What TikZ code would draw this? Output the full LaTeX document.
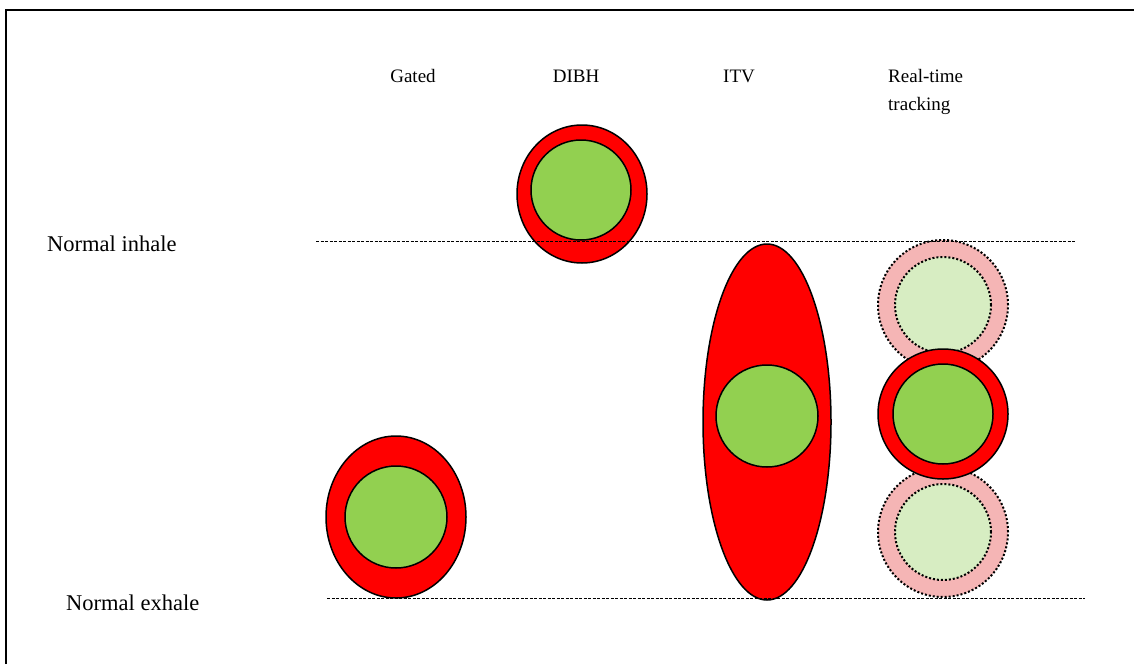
\documentclass[tikz,border=0pt]{standalone}
\usepackage{fontspec}
\setmainfont{Liberation Serif}
\usetikzlibrary{shapes.geometric}
\definecolor{tumour}{HTML}{92D050}
\definecolor{margin}{HTML}{FF0000}
\definecolor{ghostgreen}{HTML}{D7EDC2}
\definecolor{ghostred}{HTML}{F5B5B5}
\begin{document}
\begin{tikzpicture}[x=1pt,y=-1pt,
  lbl/.style={font=\fontsize{19}{28}\selectfont, inner sep=0pt},
  sidelbl/.style={font=\fontsize{22.5}{28}\selectfont, inner sep=0pt},
  ptv/.style={ellipse, draw=black, line width=1.5pt, fill=margin, inner sep=0pt},
  gtv/.style={circle, draw=black, line width=1.5pt, fill=tumour, inner sep=0pt},
  ghostptv/.style={circle, draw=black, line width=2pt, dash pattern=on 2pt off 2pt, fill=ghostred, inner sep=0pt, minimum size=130pt},
  ghostgtv/.style={circle, draw=black, line width=2pt, dash pattern=on 2pt off 2pt, fill=ghostgreen, inner sep=0pt, minimum size=96pt},
  level/.style={line width=1pt, dash pattern=on 3pt off 1.5pt}]
\useasboundingbox (0,0) rectangle (1134,664);
% frame
\draw[line width=2pt] (6,664) -- (6,10) -- (1134,10);

% column headings
\node[lbl, anchor=base] (hgated) at (413,82) {Gated};
\node[lbl, anchor=base] (hdibh) at (576,82) {DIBH};
\node[lbl, anchor=base] (hitv) at (739,82) {ITV};
\node[lbl, anchor=base west] (hrt1) at (888,82) {Real-time};
\node[lbl, anchor=base west] (hrt2) at (888,110) {tracking};

% breathing levels
\node[sidelbl, anchor=base west] (inhale) at (47,251) {Normal inhale};
\node[sidelbl, anchor=base west] (exhale) at (66,610) {Normal exhale};

% gated
\node[ptv, minimum width=140pt, minimum height=162pt] (gatedptv) at (396,517) {};
\node[gtv, minimum size=102pt] (gatedgtv) at (396,517) {};

% DIBH
\node[ptv, minimum width=130pt, minimum height=138pt] (dibhptv) at (582,194) {};
\node[gtv, minimum size=100pt] (dibhgtv) at (581,190) {};

% ITV
\node[ptv, minimum width=128pt, minimum height=356pt] (itvptv) at (767,422) {};
\node[gtv, minimum size=102pt] (itvgtv) at (767,416) {};

% real-time tracking
\node[ghostptv] (rtupptv) at (943,305) {};
\node[ghostgtv] (rtupgtv) at (943,305) {};
\node[ghostptv] (rtdnptv) at (943,532) {};
\node[ghostgtv] (rtdngtv) at (943,532) {};
\node[ptv, minimum width=130pt, minimum height=130pt] (rtptv) at (943,414) {};
\node[gtv, minimum size=100pt] (rtgtv) at (943,414) {};

% level lines
\coordinate (inA) at (316,241);
\coordinate (inB) at (1075,241);
\coordinate (exA) at (327,598);
\coordinate (exB) at (1085,598);
\draw[level] (inA) -- (inB);
\draw[level] (exA) -- (exB);
\end{tikzpicture}
\end{document}
